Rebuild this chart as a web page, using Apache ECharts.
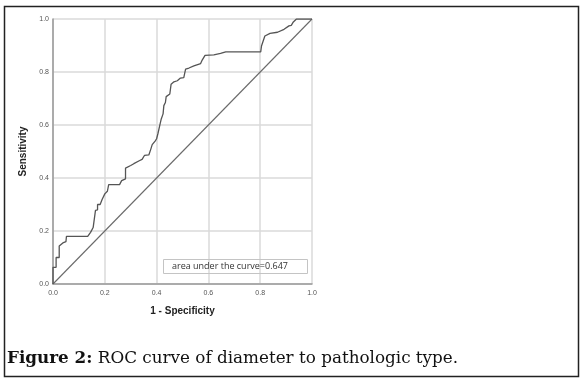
<!DOCTYPE html>
<html>
<head>
<meta charset="utf-8">
<script src="https://cdn.jsdelivr.net/npm/echarts@6/dist/echarts.min.js"></script>
<style>
  html, body { margin: 0; padding: 0; background: #fff; }
  #chart { width: 584px; height: 383px; }
</style>
</head>
<body>
<div id="chart"></div>
<script>
// ROC curve points: [1 - specificity, sensitivity]
const rocPoints = [
  [0, 0], [0, 0.063], [0.012, 0.063], [0.012, 0.10], [0.024, 0.10], [0.024, 0.143],
  [0.03, 0.15], [0.038, 0.155], [0.05, 0.16], [0.052, 0.18], [0.134, 0.18],
  [0.145, 0.195], [0.155, 0.213], [0.16, 0.215], [0.164, 0.278], [0.172, 0.28],
  [0.172, 0.30], [0.182, 0.30], [0.19, 0.32], [0.2, 0.34], [0.21, 0.35],
  [0.215, 0.375], [0.257, 0.375], [0.265, 0.39], [0.272, 0.397], [0.28, 0.397],
  [0.28, 0.437], [0.30, 0.447], [0.312, 0.454], [0.333, 0.465], [0.344, 0.47],
  [0.353, 0.485], [0.37, 0.487], [0.378, 0.51], [0.383, 0.526], [0.395, 0.54],
  [0.40, 0.548], [0.405, 0.567], [0.412, 0.598], [0.418, 0.623], [0.425, 0.642],
  [0.428, 0.673], [0.434, 0.685], [0.437, 0.707], [0.444, 0.712], [0.451, 0.717],
  [0.456, 0.754], [0.467, 0.763], [0.48, 0.767], [0.492, 0.777], [0.505, 0.779],
  [0.509, 0.798], [0.512, 0.811], [0.525, 0.815], [0.544, 0.823], [0.57, 0.832],
  [0.576, 0.845], [0.587, 0.863], [0.621, 0.865], [0.647, 0.87], [0.667, 0.876],
  [0.802, 0.876], [0.805, 0.898], [0.812, 0.905], [0.818, 0.936], [0.838, 0.946],
  [0.867, 0.95], [0.892, 0.961], [0.911, 0.974], [0.92, 0.976], [0.928, 0.989],
  [0.935, 0.996], [0.94, 1.0], [1.0, 1.0]
]
// chance line
const refLine = [[0, 0], [1, 1]]
const tickLabels = ['0.0', '0.2', '0.4', '0.6', '0.8', '1.0']
const aucText = 'area under the curve=0.647'
const captionBold = 'Figure 2:'
const captionRest = ' ROC curve of diameter to pathologic type.'

const myChart = echarts.init(document.getElementById('chart'))

const tickFmt = v => tickLabels[Math.round(v / 0.2)]

const option = {
  animation: false,
  backgroundColor: '#fff',
  grid: { left: 53, right: 272, top: 19, bottom: 99 },
  title: [
    {
      text: aucText,
      left: 163,
      top: 259,
      borderColor: '#c4c4c4',
      borderWidth: 1,
      padding: [3, 20, 3, 9],
      textStyle: { fontFamily: 'Open Sans', fontSize: 9, fontWeight: 'normal', color: '#333' }
    },
    {
      text: '{b|' + captionBold + '}{r|' + captionRest + '}',
      left: 7,
      top: 350,
      padding: 0,
      textStyle: {
        rich: {
          b: { fontFamily: 'DejaVu Serif', fontSize: 16.8, fontWeight: 'bold', color: '#111' },
          r: { fontFamily: 'DejaVu Serif', fontSize: 16.8, fontWeight: 'normal', color: '#111' }
        }
      }
    }
  ],
  graphic: [
    {
      type: 'rect',
      shape: { x: 4.5, y: 6.5, width: 574, height: 370 },
      style: { fill: 'none', stroke: '#222', lineWidth: 1.5 },
      silent: true
    }
  ],
  xAxis: {
    type: 'value',
    min: 0,
    max: 1,
    interval: 0.2,
    name: '1 - Specificity',
    nameLocation: 'middle',
    nameGap: 22,
    nameTextStyle: { fontFamily: 'Liberation Sans', fontSize: 10, fontWeight: 'bold', color: '#222' },
    axisLine: { lineStyle: { color: '#999', width: 1.5 } },
    axisTick: { show: false },
    axisLabel: { formatter: tickFmt, fontFamily: 'Liberation Sans', fontSize: 7, color: '#555', margin: 6 },
    splitLine: { show: true, lineStyle: { color: '#dadada', width: 1.5 } }
  },
  yAxis: {
    type: 'value',
    min: 0,
    max: 1,
    interval: 0.2,
    name: 'Sensitivity',
    nameLocation: 'middle',
    nameGap: 25,
    nameTextStyle: { fontFamily: 'Liberation Sans', fontSize: 10, fontWeight: 'bold', color: '#222' },
    axisLine: { show: true, lineStyle: { color: '#999', width: 1.5 } },
    axisTick: { show: false },
    axisLabel: { formatter: tickFmt, fontFamily: 'Liberation Sans', fontSize: 7, color: '#555', margin: 4 },
    splitLine: { show: true, lineStyle: { color: '#dadada', width: 1.5 } }
  },
  series: [
    {
      type: 'line',
      data: refLine,
      symbol: 'none',
      lineStyle: { color: '#6a6a6a', width: 1.1 },
      z: 3
    },
    {
      type: 'line',
      data: rocPoints,
      symbol: 'none',
      lineStyle: { color: '#555', width: 1.3 },
      z: 4
    }
  ]
}

myChart.setOption(option)
</script>
</body>
</html>
